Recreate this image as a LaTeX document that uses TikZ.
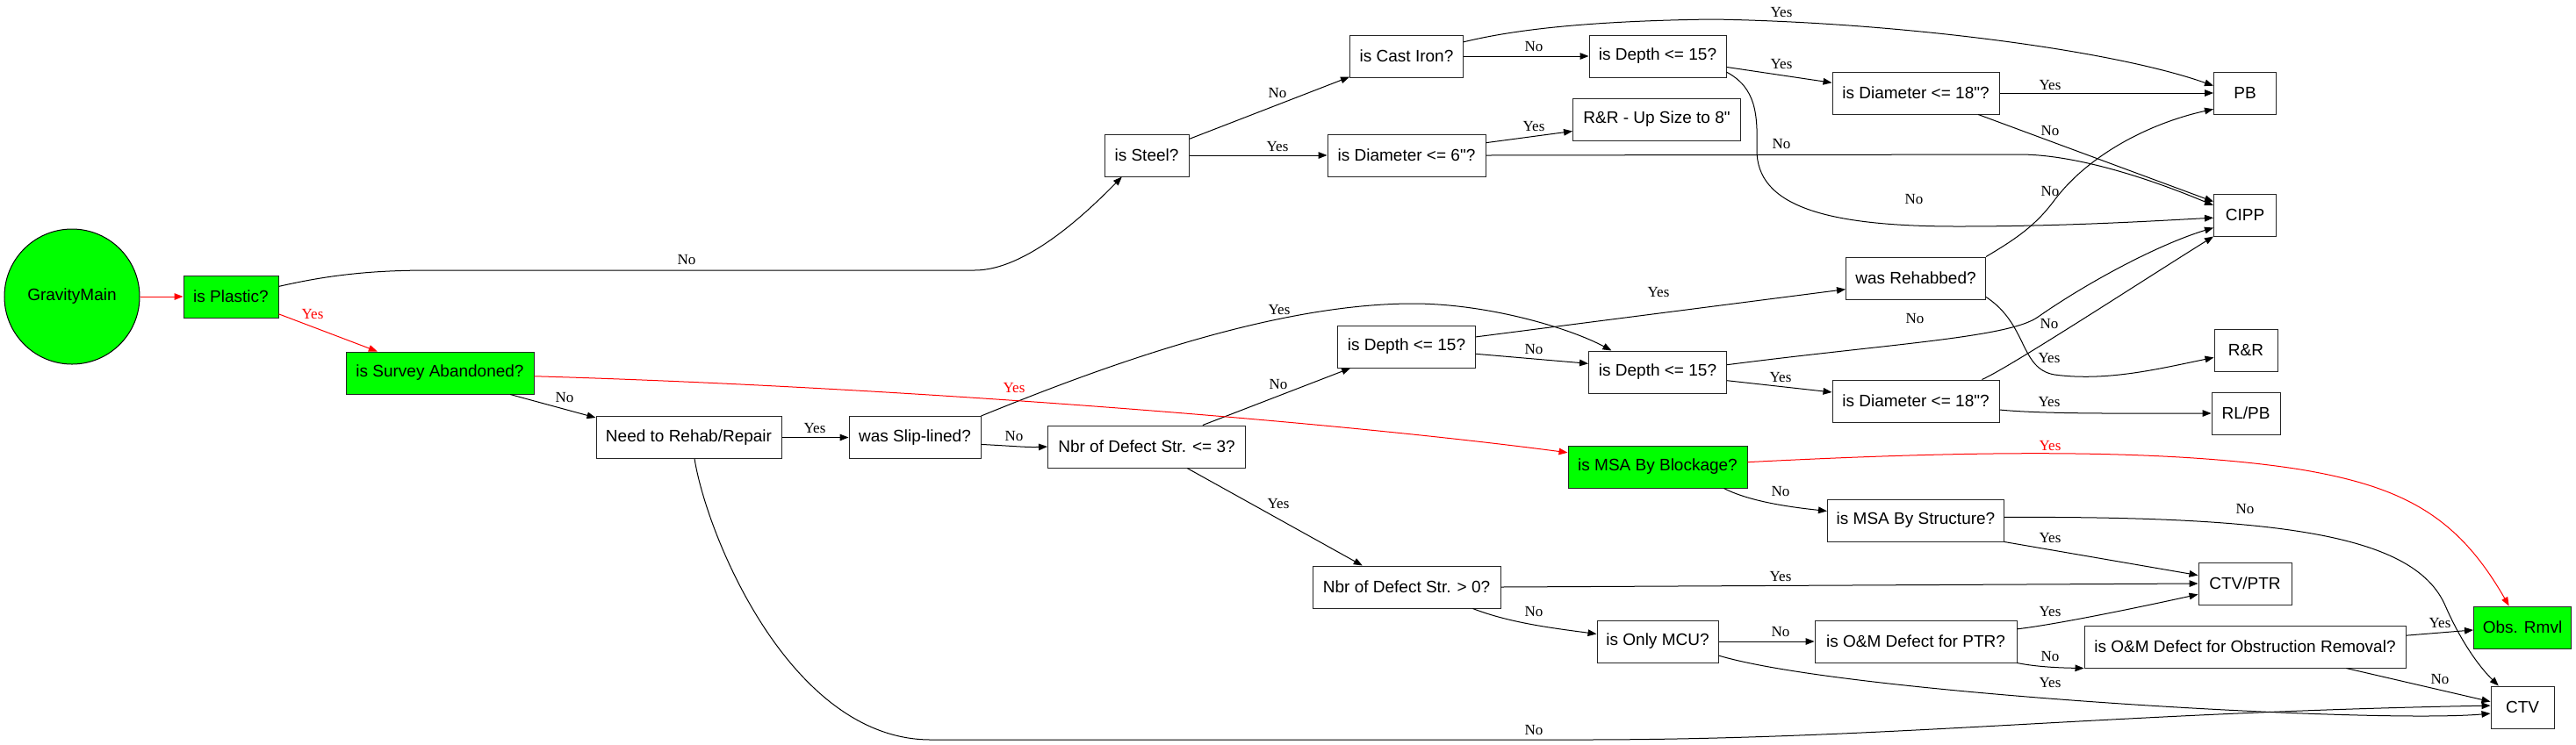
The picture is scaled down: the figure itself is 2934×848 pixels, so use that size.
\documentclass[tikz,border=0pt]{standalone}
\usepackage{fontspec}
\setmainfont{Liberation Serif}
\newfontfamily\gvsans{Liberation Sans}
\usetikzlibrary{arrows.meta}
\definecolor{gvgreen}{RGB}{0,255,0}
\begin{document}
\begin{tikzpicture}[x=0.5pt,y=-0.5pt,
  box/.style={draw=black!85, line width=0.5pt, minimum height=24pt, inner sep=0pt, font=\gvsans\fontsize{9.5}{11}\selectfont},
  gbox/.style={box, fill=gvgreen},
  lbl/.style={font=\fontsize{8.5}{10}\selectfont, inner sep=0pt},
  rlbl/.style={lbl, text=red},
  conn/.style={draw, line width=0.5pt, -{Triangle[length=5pt,width=3.8pt]}},
  rconn/.style={conn, red}
]
\useasboundingbox (0,0) rectangle (2934,848);
% nodes
\node[circle, draw=black, fill=gvgreen, minimum size=77pt, inner sep=0pt, line width=0.5pt, font=\gvsans\fontsize{9.5}{11}\selectfont] (gm) at (82,338) {GravityMain};
\node[gbox, minimum width=54pt] (plastic) at (263,338) {is Plastic?};
\node[gbox, minimum width=107pt] (survey) at (501,425) {is Survey Abandoned?};
\node[box, minimum width=105.5pt] (need) at (784.5,498.5) {Need to Rehab/Repair};
\node[box, minimum width=75pt] (slip) at (1042,498.5) {was Slip-lined?};
\node[box, minimum width=112.5pt] (nbr3) at (1306,509) {Nbr of Defect Str. <= 3?};
\node[box, minimum width=48pt] (steel) at (1306,177) {is Steel?};
\node[box, minimum width=64.5pt] (cast) at (1602,64) {is Cast Iron?};
\node[box, minimum width=78pt] (depth1) at (1888,64) {is Depth <= 15?};
\node[box, minimum width=90pt] (diam6) at (1602,177) {is Diameter <= 6"?};
\node[box, minimum width=95.5pt] (rrup) at (1887,136) {R\&R - Up Size to 8"};
\node[box, minimum width=95pt] (diam18a) at (2182,106) {is Diameter <= 18"?};
\node[box, minimum width=35.5pt] (pb) at (2557,106) {PB};
\node[box, minimum width=35.5pt] (cipp) at (2557,245) {CIPP};
\node[box, minimum width=78.5pt] (depthL) at (1602,395) {is Depth <= 15?};
\node[box, minimum width=78.5pt] (depthR) at (1888,424) {is Depth <= 15?};
\node[box, minimum width=79.5pt] (rehab) at (2182,317) {was Rehabbed?};
\node[box, minimum width=95pt] (diam18b) at (2182,457) {is Diameter <= 18"?};
\node[box, minimum width=36pt] (rr) at (2558,399) {R\&R};
\node[box, minimum width=39pt] (rlpb) at (2558,471) {RL/PB};
\node[gbox, minimum width=102pt] (msab) at (1888,532) {is MSA By Blockage?};
\node[box, minimum width=100.5pt] (msas) at (2182,593) {is MSA By Structure?};
\node[box, minimum width=107pt] (nbr0) at (1602,669) {Nbr of Defect Str. > 0?};
\node[box, minimum width=69pt] (mcu) at (1888,731) {is Only MCU?};
\node[box, minimum width=115pt] (ptr) at (2182,731) {is O\&M Defect for PTR?};
\node[box, minimum width=53pt] (ctvptr) at (2557,665) {CTV/PTR};
\node[box, minimum width=183pt] (obst) at (2557,737) {is O\&M Defect for Obstruction Removal?};
\node[gbox, minimum width=55.5pt] (obs) at (2873,715) {Obs. Rmvl};
\node[box, minimum width=36pt] (ctv) at (2873,806) {CTV};
% edges
\draw[rconn] (gm) -- (plastic);
\draw[rconn] (plastic.-20) -- (survey.161);
\draw[conn] (plastic.12) .. controls (380,312) and (430,308) .. (491,308) -- (1110,308) .. controls (1170,308) and (1240,240) .. (steel.-139);
\draw[conn] (survey.-17) -- (need.168);
\draw[conn] (need) -- (slip);
\draw[conn] (slip.-6) .. controls (1150,508) and (1170,510) .. (nbr3.west);
\draw[conn] (slip.north east) .. controls (1250,420) and (1450,345) .. (1613,346) .. controls (1700,347) and (1790,375) .. (depthR.155);
\draw[conn] (nbr3.21) -- (depthL.-159);
\draw[conn] (nbr3.-28) -- (nbr0.154);
\draw[conn] (steel.21) -- (cast.-160);
\draw[conn] (steel) -- (diam6);
\draw[conn] (cast) -- (depth1);
\draw[conn] (diam6.9) -- (rrup.-172);
\draw[conn] (cast.14) .. controls (1720,35) and (1800,24) .. (1950,22) .. controls (2150,25) and (2400,55) .. (pb.167);
\draw[conn] (depth1.-9) -- (diam18a.173);
\draw[conn] (depth1.-13) .. controls (2000,100) and (2002,130) .. (2001,170) .. controls (2000,235) and (2080,258) .. (2230,258) .. controls (2350,258) and (2450,252) .. (cipp.-175);
\draw[conn] (diam18a) -- (pb);
\draw[conn] (diam18a.-19) -- (cipp.157);
\draw[conn] (diam6.east) -- (2300,176) .. controls (2360,176) and (2440,200) .. (cipp.163);
\draw[conn] (rehab.north east) .. controls (2300,270) and (2320,255) .. (2340,228) .. controls (2380,175) and (2450,140) .. (pb.-153);
\draw[conn] (depthL.8) -- (rehab.-171);
\draw[conn] (depthL.-6) -- (depthR.173);
\draw[conn] (depthR.6) .. controls (2150,392) and (2285,385) .. (2320,362) .. controls (2380,320) and (2460,278) .. (cipp.-158);
\draw[conn] (depthR.-7) -- (diam18b.174);
\draw[conn] (diam18b.18) .. controls (2290,418) and (2440,320) .. (cipp.south west);
\draw[conn] (rehab.-15) .. controls (2310,370) and (2300,420) .. (2340,427) .. controls (2400,435) and (2460,420) .. (rr.-167);
\draw[conn] (diam18b.-6) .. controls (2330,472) and (2420,471) .. (rlpb.west);
\draw[rconn] (survey.-2) .. controls (1000,440) and (1500,478) .. (msab.171);
\draw[rconn] (msab.3) .. controls (2200,516) and (2450,508) .. (2620,535) .. controls (2740,555) and (2800,590) .. (obs.122);
\draw[conn] (msab.-18) .. controls (1990,570) and (2030,577) .. (msas.174);
\draw[conn] (msas.south east) -- (ctvptr.170);
\draw[conn] (msas.2) .. controls (2600,588) and (2750,610) .. (2785,690) .. controls (2802,729) and (2822,758) .. (ctv.138);
\draw[conn] (nbr0.east) -- (ctvptr.west);
\draw[conn] (nbr0.-18) .. controls (1720,710) and (1770,716) .. (mcu.173);
\draw[conn] (mcu) -- (ptr);
\draw[conn] (mcu.-13) .. controls (2100,790) and (2700,825) .. (ctv.-169);
\draw[conn] (need.-75) .. controls (805,610) and (900,843) .. (1060,843) -- (1800,843) .. controls (2150,843) and (2400,812) .. (ctv.177);
\draw[conn] (ptr.7) .. controls (2330,713) and (2400,700) .. (ctvptr.-167);
\draw[conn] (ptr.south east) .. controls (2320,760) and (2345,761) .. (obst.south west);
\draw[conn] (obst.4) -- (obs.-177);
\draw[conn] (obst.-12) -- (ctv.170);
% labels
\node[rlbl] (l1) at (356,358) {Yes};
\node[lbl] (l2) at (643,453) {No};
\node[lbl] (l3) at (928,488) {Yes};
\node[lbl] (l4) at (1155,497) {No};
\node[rlbl] (l5) at (1155,442) {Yes};
\node[lbl] (l6) at (782,296) {No};
\node[lbl] (l7) at (1455,106) {No};
\node[lbl] (l8) at (1455,167) {Yes};
\node[lbl] (l9) at (1747,53) {No};
\node[lbl] (l10) at (1747,144) {Yes};
\node[lbl] (l11) at (2029,14) {Yes};
\node[lbl] (l12) at (2029,73) {Yes};
\node[lbl] (l13) at (2335,97) {Yes};
\node[lbl] (l14) at (2335,149) {No};
\node[lbl] (l15) at (2029,164) {No};
\node[lbl] (l16) at (2180,227) {No};
\node[lbl] (l17) at (2335,218) {No};
\node[lbl] (l18) at (1457,353) {Yes};
\node[lbl] (l19) at (1456,438) {No};
\node[lbl] (l20) at (1889,333) {Yes};
\node[lbl] (l21) at (1747,398) {No};
\node[lbl] (l22) at (2028,430) {Yes};
\node[lbl] (l23) at (2181,363) {No};
\node[lbl] (l24) at (2334,369) {No};
\node[lbl] (l25) at (2334,408) {Yes};
\node[lbl] (l26) at (2334,458) {Yes};
\node[rlbl] (l27) at (2335,508) {Yes};
\node[lbl] (l28) at (2028,560) {No};
\node[lbl] (l29) at (2557,580) {No};
\node[lbl] (l30) at (2335,613) {Yes};
\node[lbl] (l31) at (1456,574) {Yes};
\node[lbl] (l32) at (2028,657) {Yes};
\node[lbl] (l33) at (1747,697) {No};
\node[lbl] (l34) at (2028,720) {No};
\node[lbl] (l35) at (2335,697) {Yes};
\node[lbl] (l36) at (2335,748) {No};
\node[lbl] (l37) at (2335,778) {Yes};
\node[lbl] (l38) at (2779,710) {Yes};
\node[lbl] (l39) at (2779,774) {No};
\node[lbl] (l40) at (1747,832) {No};
\end{tikzpicture}
\end{document}
